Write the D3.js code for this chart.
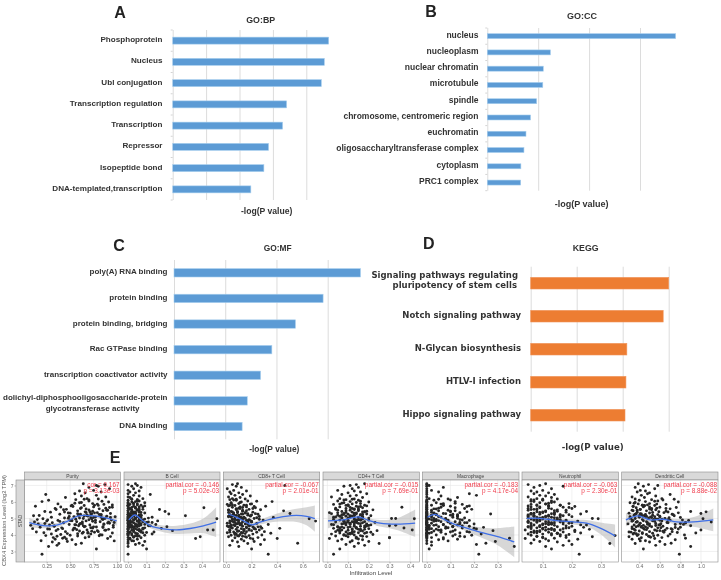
<!DOCTYPE html>
<html><head><meta charset="utf-8">
<script src="https://cdn.jsdelivr.net/npm/d3@7/dist/d3.min.js"></script>
<style>html,body{margin:0;padding:0;background:#fff}svg{display:block}text{font-family:"Liberation Sans",Arial,sans-serif}</style>
</head><body><svg id="c" width="721" height="580"></svg>
<script>
// ---------- bar panels ----------
const bpLabels=["Phosphoprotein","Nucleus","Ubl conjugation","Transcription regulation","Transcription","Repressor","Isopeptide bond","DNA-templated,transcription"];
const bpValues=[9.34,9.08,8.9,6.82,6.58,5.74,5.46,4.68];
const ccLabels=["nucleus","nucleoplasm","nuclear chromatin","microtubule","spindle","chromosome, centromeric region","euchromatin","oligosaccharyltransferase complex","cytoplasm","PRC1 complex"];
const ccValues=[18.5,6.2,5.5,5.45,4.85,4.25,3.8,3.6,3.3,3.28];
const mfLabels=["poly(A) RNA binding","protein binding","protein binding, bridging","Rac GTPase binding","transcription coactivator activity","dolichyl-diphosphooligosaccharide-protein|glycotransferase  activity","DNA binding"];
const mfValues=[7.28,5.82,4.74,3.82,3.38,2.86,2.66];
const keggLabels=["Signaling pathways regulating|pluripotency of stem cells","Notch signaling pathway","N-Glycan biosynthesis","HTLV-I infection","Hippo signaling pathway"];
const keggValues=[6,5.76,4.18,4.14,4.1];

// ---------- immune infiltration panels ----------
const cellTypes=["Purity","B Cell","CD8+ T Cell","CD4+ T Cell","Macrophage","Neutrophil","Dendritic Cell"];
const corLabels=["cor = 0.167","partial.cor = -0.146","partial.cor = -0.067","partial.cor = -0.015","partial.cor = -0.183","partial.cor = -0.063","partial.cor = -0.088"];
const pLabels=["p = 3.13e-03","p = 5.02e-03","p = 2.01e-01","p = 7.69e-01","p = 4.17e-04","p = 2.30e-01","p = 8.88e-02"];
const xTickValues=[[.25,.5,.75,1],[0,.1,.2,.3,.4],[0,.2,.4,.6],[0,.1,.2,.3,.4],[0,.1,.2,.3],[.1,.2,.3],[.4,.6,.8,1]];
const xTickDigits=[2,1,1,1,1,1,1];
const xDomains=[[.0133,1.037],[-.022,.497],[-.021,.732],[-.021,.444],[-.019,.39],[.029,.359],[.229,1.166]];
const expressionTicks=[3,4,5,6,7];
const expression=[2.83,3.15,3.3,3.37,3.42,3.48,3.5,3.57,3.6,3.64,
3.65,3.71,3.74,3.78,3.8,3.83,3.84,3.89,3.9,3.94,
3.96,3.98,4.0,4.03,4.05,4.06,4.1,4.12,4.13,4.16,
4.18,4.2,4.2,4.24,4.26,4.28,4.3,4.3,4.34,4.36,
4.38,4.4,4.42,4.43,4.46,4.47,4.5,4.5,4.53,4.56,
4.58,4.6,4.6,4.63,4.66,4.67,4.7,4.71,4.74,4.76,
4.78,4.8,4.8,4.84,4.85,4.88,4.9,4.9,4.93,4.96,
4.98,5.0,5.0,5.03,5.06,5.07,5.1,5.11,5.14,5.16,
5.18,5.2,5.23,5.25,5.27,5.3,5.33,5.35,5.38,5.4,
5.42,5.46,5.5,5.52,5.55,5.58,5.6,5.65,5.68,5.7,
5.74,5.78,5.8,5.85,5.88,5.9,5.95,6.0,6.02,6.06,
6.1,6.14,6.18,6.2,6.27,6.3,6.36,6.4,6.45,6.5,
6.55,6.6,6.66,6.7,6.8,6.88,6.95,7.0,7.05,7.1,
4.08,4.22,4.35,4.45,4.55,4.62,4.72,4.82,4.92,5.02,
5.08,5.12,5.22,5.28,5.36,5.44,5.54,5.62,5.72,5.82,
3.86,4.02,4.15,4.32,4.48,4.68,4.86,4.94,5.04,5.26,
4.07,4.25,4.38,4.52,4.64,4.74,4.83,4.95,5.06,5.17,
5.24,5.32,5.41,5.5,5.6,5.69,5.8,5.92,6.04,6.16,
3.92,4.11,4.29,4.41,4.57,4.69,4.79,4.89,5.01,5.13,
5.19,5.29,5.39,5.47,5.57,5.66,5.76,5.87,5.97,6.12,
3.75,3.95,4.17,4.34,4.49,4.61,4.77,4.91,5.09,5.21,
4.44,4.54,4.65,4.75,4.87,4.97,5.15,5.34,5.53,5.79];
const purityX=[.2,.78,.27,.36,.56,.38,.62,.31,.47,.97,
.19,.52,.34,.9,.42,.66,.32,.7,.93,.58,
.24,.5,.84,.4,.72,.3,.63,.95,.22,.76,
.14,.45,.8,.6,.35,.88,.53,.68,.91,.26,
.1,.55,.74,.41,.96,.18,.65,.85,.33,.59,
.08,.28,.71,.49,.86,.16,.61,.92,.43,.77,
.12,.57,.82,.25,.67,.37,.94,.51,.15,.73,
.21,.64,.87,.44,.75,.3,.98,.54,.69,.11,
.17,.6,.83,.39,.72,.93,.48,.79,.29,.66,
.23,.58,.89,.7,.46,.81,.34,.62,.95,.75,
.13,.65,.52,.86,.37,.74,.6,.91,.2,.7,
.27,.56,.8,.68,.45,.88,.62,.78,.24,.55,
.66,.83,.6,.75,.92,.7,.8,.78,.87,.64,
.47,.73,.28,.85,.64,.55,.9,.39,.7,.6,
.77,.49,.83,.58,.67,.74,.35,.88,.53,.95,
.44,.82,.69,.57,.78,.63,.52,.85,.72,.61,
.58,.79,.42,.66,.86,.31,.74,.56,.93,.68,
.81,.5,.71,.9,.61,.4,.76,.55,.84,.65,
.36,.69,.87,.54,.96,.23,.63,.77,.48,.89,
.59,.73,.44,.85,.67,.92,.51,.79,.62,.7,
.46,.81,.64,.37,.75,.56,.91,.26,.83,.68,
.72,.33,.6,.97,.5,.84,.65,.76,.43,.8];
const bCellX=[0,.1,0,.08,.04,0,.06,0,.09,.03,
.02,0,.05,.365,.01,.07,0,.39,.03,.06,
0,.09,.02,0,.05,.13,0,.04,.08,.01,
.14,.03,0,.07,.24,.02,.43,.46,.06,0,
.04,.18,0,.09,.01,.03,.21,.05,0,.11,
.02,0,.07,.15,.04,.01,.06,0,.03,.1,
0,.08,.02,.05,.16,0,.03,.07,.01,.09,
.48,.04,0,.06,.02,.13,0,.05,.03,.31,
.01,.07,0,.04,.22,.02,.09,0,.06,.03,
.2,0,.05,.02,.08,.01,0,.41,.04,.06,
.03,0,.07,.01,.05,0,.09,.02,.04,.06,
0,.05,.02,.08,.01,0,.06,.03,.12,0,
.04,.01,.06,0,.03,.07,.02,.05,0,.04,
.05,0,.08,.02,.12,.04,0,.06,.03,.11,
.01,.06,0,.03,.07,.02,.17,.04,0,.05,
.03,0,.1,.05,.02,.07,.01,.06,0,.04,
.02,.06,0,.04,.09,.01,.05,0,.07,.03,
0,.04,.02,.06,.01,.08,0,.03,.05,.02,
.05,0,.03,.08,.01,.06,.11,0,.04,.02,
.07,.01,.04,0,.06,.02,.09,.03,0,.05,
.01,.04,.07,0,.03,.05,.02,.08,0,.06,
.03,.06,.01,.13,0,.04,.07,.02,.05,0];
const cd8X=[.33,.2,.1,.03,.27,.17,.56,.09,.22,.14,
.05,.3,.12,.4,.19,.07,.25,.02,.15,.1,
.18,.04,.28,.11,.21,.08,.35,.13,.01,.24,
.06,.16,.3,.1,.2,.03,.14,.26,.08,.18,
.12,.42,.05,.22,.09,.16,.02,.27,.13,.07,
.19,.04,.11,.33,.15,.08,.24,.01,.17,.1,
.06,.2,.13,.7,.03,.16,.29,.09,.18,.05,
.65,.12,.22,.07,.37,.14,.02,.1,.19,.05,
.08,.17,.03,.25,.12,.5,.06,.15,.21,.09,
.04,.45,.13,.02,.18,.08,.11,.23,.05,.16,
.31,.07,.14,.01,.2,.1,.04,.12,.36,.17,
.08,.03,.15,.05,.11,.02,.19,.07,.13,.04,
.1,.03,.16,.06,.01,.12,.08,.46,.05,.09,
.15,.09,.23,.04,.18,.12,.03,.2,.07,.14,
.11,.26,.06,.17,.02,.13,.08,.1,.22,.05,
.16,.07,.12,.03,.21,.09,.17,.05,.24,.13,
.07,.14,.22,.03,.17,.1,.05,.26,.12,.19,
.06,.15,.09,.02,.21,.11,.16,.04,.24,.08,
.13,.07,.18,.28,.04,.12,.2,.09,.15,.02,
.1,.23,.05,.16,.08,.13,.02,.19,.11,.06,
.21,.09,.03,.14,.25,.06,.17,.1,.04,.2,
.16,.01,.11,.07,.19,.13,.05,.09,.27,.03];
const cd4X=[.03,.06,.13,.18,.09,.25,.15,.11,.2,.05,
.12,.17,.07,.01,.14,.3,.3,.1,.19,.04,
.16,.08,.13,.22,.02,.11,.18,.06,.15,.21,
.09,.13,.04,.17,.24,.1,.07,.41,.15,.12,
.2,.03,.37,.08,.14,.18,.11,.05,.16,.3,
.33,.09,.13,.02,.19,.07,.15,.11,.17,.23,
.04,.12,.18,.08,.14,.1,.06,.2,.16,.13,
.42,.31,.33,.07,.15,.03,.11,.17,.09,.21,
.13,.05,.16,.1,.19,.08,.14,.01,.12,.18,
.07,.15,.11,.22,.04,.13,.09,.17,.36,.06,
.14,.1,.18,.03,.12,.16,.08,.2,.11,.05,
.15,.09,.13,.06,.17,.02,.11,.14,.07,.19,
.1,.16,.13,.05,.12,.15,.08,.11,.14,.18,
.12,.06,.16,.1,.18,.03,.13,.08,.15,.2,
.11,.17,.07,.14,.09,.19,.13,.04,.16,.1,
.14,.08,.19,.12,.05,.16,.1,.13,.07,.17,
.1,.16,.06,.13,.19,.09,.14,.03,.17,.11,
.08,.13,.18,.05,.12,.15,.1,.07,.16,.12,
.17,.11,.05,.14,.2,.08,.13,.16,.1,.06,
.13,.02,.17,.09,.15,.11,.19,.06,.14,.08,
.15,.09,.12,.18,.07,.21,.1,.14,.04,.16,
.06,.19,.11,.14,.08,.17,.12,.05,.15,.09];
const macrophageX=[.22,.01,.37,.02,.21,0,.25,.02,.29,.09,
0,.05,.13,0,.35,.07,.02,.16,0,.11,
0,.19,.04,0,.08,.23,.01,.14,0,.06,
.1,0,.17,.03,.28,0,.12,.06,0,.21,
0,.08,.15,.01,.24,0,.05,.11,.18,0,
.03,.13,0,.07,.2,0,.1,.02,.16,0,
0,.06,.12,0,.04,.18,0,.09,.14,.01,
0,.08,.03,.16,0,.11,.05,0,.13,.02,
0,.1,.04,0,.27,.07,0,.14,.02,.17,
0,.05,.09,0,.19,.03,0,.12,.06,0,
.1,0,.02,.15,0,.07,.04,0,.12,0,
.03,0,.09,.01,.13,0,.06,.21,0,.18,
0,.05,0,.02,0,.07,0,.01,0,0,
0,.11,.04,0,.15,.07,0,.09,.02,0,
.06,0,.13,.03,0,.1,0,.05,.17,0,
0,.12,.02,0,.08,.14,0,.04,0,.11,
0,.06,.02,.11,0,.17,.03,.08,0,.13,
.04,0,.1,.02,.16,0,.07,.12,0,.05,
.14,0,.05,.2,.01,0,.09,.03,.13,0,
.02,.08,0,.12,.04,0,.18,.06,0,.1,
.07,0,.18,.01,.11,.04,0,.15,.02,0,
.09,.01,0,.14,.05,0,.11,.03,0,.07];
const neutrophilX=[.225,.13,.11,.17,.2,.33,.06,.15,.09,.19,
.12,.07,.22,.04,.14,.1,.18,.27,.08,.16,
.348,.06,.13,.19,.1,.05,.15,.23,.08,.12,
.17,.09,.21,.07,.14,.11,.04,.16,.26,.1,
.06,.13,.18,.08,.24,.11,.15,.05,.2,.09,
.14,.25,.07,.12,.17,.1,.06,.19,.13,.08,
.16,.05,.11,.22,.09,.14,.07,.18,.12,.06,
.29,.27,.1,.15,.08,.13,.05,.2,.11,.17,
.07,.12,.16,.09,.23,.06,.14,.1,.18,.08,
.25,.11,.05,.15,.07,.13,.2,.09,.17,.06,
.12,.08,.16,.06,.11,.19,.09,.14,.07,.13,
.1,.06,.15,.08,.13,.05,.11,.09,.14,.07,
.12,.08,.06,.1,.13,.07,.17,.09,.05,.11,
.15,.08,.12,.06,.18,.1,.14,.05,.16,.09,
.11,.07,.19,.13,.09,.15,.06,.12,.21,.08,
.1,.16,.07,.13,.05,.11,.18,.08,.14,.06,
.13,.09,.17,.06,.12,.2,.08,.15,.1,.05,
.14,.07,.11,.18,.05,.09,.16,.12,.06,.1,
.08,.15,.21,.1,.06,.13,.17,.09,.05,.12,
.16,.06,.1,.14,.08,.19,.05,.11,.13,.07,
.11,.18,.06,.14,.09,.23,.12,.07,.16,.05,
.19,.09,.13,.05,.16,.1,.07,.14,.08,.12];
const dendriticX=[.79,.44,.9,.56,.65,.36,.71,.5,.6,.41,
.46,.75,.33,.55,.85,.42,.62,.3,.5,.68,
.38,.58,.84,.47,.7,.34,.53,.95,.43,.64,
.3,.5,.72,.4,.6,.36,1.0,.55,.45,.78,
.33,.67,.48,.58,.42,.8,.37,.52,.63,.9,
.44,.35,.6,.75,.5,.29,.56,.41,.68,.85,
1.1,.47,.38,.62,.53,.88,.33,.7,.43,.58,
1.02,.36,.65,.49,.8,.4,.55,.31,.6,.74,
.45,.35,.58,.72,.42,1.0,.5,.64,.38,1.05,
.9,.47,.33,.56,.41,.7,.52,.37,.6,.44,
.34,.55,.43,.66,.39,.5,.31,.78,.46,.58,
.4,.52,.36,.62,.45,.33,.56,.42,.7,.48,
.5,.38,.46,.41,.55,.36,.44,.58,.49,.39,
.43,.63,.35,.75,.5,.4,.85,.55,.68,.32,
.6,.46,.73,.37,.53,.66,.41,.57,.34,.48,
.51,.39,.77,.47,.33,.61,.44,.54,.69,.36,
.37,.57,.71,.42,.83,.48,.33,.62,.52,.4,
.46,.3,.59,.38,.66,.5,.43,.35,.55,.74,
.49,.35,.65,.44,.56,.8,.38,.6,.31,.47,
.53,.41,.68,.34,.5,.76,.45,.57,.36,.63,
.4,.54,.32,.72,.46,.59,.37,.82,.51,.42,
.61,.39,.48,.67,.34,.56,.43,.78,.52,.45];
const xSeries=[purityX,bCellX,cd8X,cd4X,macrophageX,neutrophilX,dendriticX];
// smooth fits: [x, fit, half-width of the confidence band]
const puritySmooth=[[.065,4.75,.28],[.215,4.57,.17],[.357,4.59,.13],[.463,4.81,.13],[.588,5.15,.12],[.712,5.17,.12],[.854,5.07,.14],[.997,4.85,.3]];
const bCellSmooth=[[.004,4.91,.25],[.038,5.21,.15],[.074,4.91,.14],[.119,4.57,.15],[.191,4.37,.2],[.263,4.31,.25],[.335,4.39,.3],[.407,4.55,.45],[.476,4.77,.9]];
const cd8Smooth=[[.018,5.27,.25],[.083,5.07,.15],[.148,4.81,.15],[.2,4.61,.15],[.265,4.77,.15],[.343,4.95,.2],[.447,5.11,.3],[.551,5.19,.4],[.629,5.13,.55],[.694,4.99,.8]];
const cd4Smooth=[[.003,4.85,.45],[.077,4.91,.2],[.15,5.09,.15],[.206,4.85,.15],[.254,4.71,.2],[.335,4.65,.35],[.424,4.71,.83]];
const macrophageSmooth=[[.003,5.07,.2],[.035,5.25,.15],[.07,4.97,.15],[.113,4.67,.15],[.169,4.41,.2],[.225,4.17,.3],[.296,3.91,.5],[.37,3.58,.93]];
const neutrophilSmooth=[[.045,5.01,.3],[.09,5.01,.15],[.148,4.87,.12],[.205,4.79,.15],[.25,4.71,.2],[.297,4.41,.35],[.348,3.94,.7]];
const dendriticSmooth=[[.27,4.91,.4],[.39,5.15,.15],[.505,4.91,.12],[.635,4.95,.12],[.765,4.79,.18],[.93,4.79,.3],[1.12,4.91,.7]];
const smoothSeries=[puritySmooth,bCellSmooth,cd8Smooth,cd4Smooth,macrophageSmooth,neutrophilSmooth,dendriticSmooth];

const svg=d3.select("#c");
const defs=svg.append("defs");
defs.append("filter").attr("id","soft").attr("x","-5%").attr("y","-5%").attr("width","110%").attr("height","110%").append("feGaussianBlur").attr("stdDeviation",.4);
defs.append("filter").attr("id","soft2").attr("x","-5%").attr("y","-5%").attr("width","110%").attr("height","110%").append("feGaussianBlur").attr("stdDeviation",.55);
const top_=svg.append("g").attr("filter","url(#soft)");
const bottom=svg.append("g").attr("filter","url(#soft2)");

function barPanel(o){
  const g=top_.append("g");
  const x=d3.scaleLinear().domain([0,o.tickMax]).range([o.x0,o.x1]);
  const y=d3.scaleBand().domain(o.labels).range([o.y0,o.y1]);
  const gx=g.append("g").attr("transform",`translate(0,${o.y1})`)
    .call(d3.axisBottom(x).tickValues(d3.range(0,o.tickMax+1e-6,o.step)).tickSize(o.y0-o.y1).tickFormat(""));
  gx.select(".domain").remove();
  gx.selectAll("line").attr("stroke","#dcdcdc").attr("stroke-width",1);
  if(o.bandTicks){
    g.selectAll(".bt").data(d3.range(o.labels.length+1)).join("line")
      .attr("x1",o.x0-2).attr("x2",o.x0)
      .attr("y1",i=>o.y0+i*y.step()).attr("y2",i=>o.y0+i*y.step()).attr("stroke","#d4d4d4");
  }
  g.selectAll(".bar").data(o.labels).join("rect")
    .attr("x",o.x0).attr("y",d=>y(d)+y.bandwidth()/2-o.bar/2)
    .attr("width",(d,i)=>x(o.values[i])-o.x0).attr("height",o.bar)
    .attr("fill",o.color).attr("stroke",o.edge).attr("stroke-width",.6);
  const lab=g.append("g");
  o.labels.forEach(l=>{
    const parts=l.split("|");
    const cy=y(l)+y.bandwidth()/2;
    parts.forEach((p,i)=>{
      const two=parts.length>1;
      const dx=two?o.lineDx[i]:0;
      lab.append("text").attr("x",o.labelX+dx).attr("y",(two?cy+(o.lineY[i]):cy)+o.labelDy)
        .attr("text-anchor","end").attr("font-size",o.font).attr("font-weight","bold")
        .attr("fill","#333").style("font-family",o.family||null).text(p);
    });
  });
  g.append("text").attr("x",o.titleX).attr("y",o.titleY).attr("text-anchor","middle").attr("font-size",o.titleSize)
    .attr("font-weight","bold").attr("fill","#333").text(o.title);
  g.append("text").attr("x",o.axX).attr("y",o.axY).attr("text-anchor","middle").attr("font-size",o.axSize)
    .attr("font-weight","bold").attr("fill","#333").style("font-family",o.family||null).text("-log(P value)");
  g.append("text").attr("x",o.letterX).attr("y",o.letterY).attr("text-anchor","middle").attr("font-size",16)
    .attr("font-weight","bold").attr("fill","#222").text(o.letter);
}
barPanel({labels:bpLabels,values:bpValues,tickMax:8,step:2,x0:172.7,x1:306.3,y0:30,y1:200,bar:7,color:"#5b9bd5",edge:"#a9cfee",bandTicks:true,
  labelX:162.5,labelDy:1.6,font:8.1,title:"GO:BP",titleX:260.7,titleY:23.2,titleSize:8.8,axX:266.7,axY:214,axSize:8.6,letter:"A",letterX:120,letterY:18});
barPanel({labels:ccLabels,values:ccValues,tickMax:15,step:5,x0:487.3,x1:640,y0:28,y1:190.7,bar:5,color:"#5b9bd5",edge:"#a9cfee",bandTicks:true,
  labelX:478.5,labelDy:1.4,font:8.5,title:"GO:CC",titleX:582,titleY:19.2,titleSize:9,axX:581.7,axY:207,axSize:9,letter:"B",letterX:431,letterY:16.5});
barPanel({labels:mfLabels,values:mfValues,tickMax:6,step:2,x0:174,x1:327.7,y0:260,y1:439.3,bar:8.4,color:"#5b9bd5",edge:"#a9cfee",
  labelX:167.5,labelDy:1.6,font:8,lineY:[-2.5,8.2],lineDx:[0,-28],title:"GO:MF",titleX:277.7,titleY:251.4,titleSize:8.4,axX:274.3,axY:452.3,axSize:8.4,letter:"C",letterX:119,letterY:250.5});
barPanel({labels:keggLabels,values:keggValues,tickMax:6,step:2,x0:530.7,x1:668.7,y0:266.7,y1:431.7,bar:11.6,color:"#ed7d31",edge:"#f1945a",
  labelX:521,labelDy:1.6,font:8.5,lineY:[-7.3,2.7],lineDx:[-3,-4],family:"'DejaVu Sans'",title:"KEGG",titleX:585.7,titleY:251,titleSize:8.8,axX:592.7,axY:449.6,axSize:8.6,letter:"D",letterX:428.7,letterY:248.5});

// ---------- bottom row ----------
const panelX=[[24.5,120.5],[124,220],[223.3,319.7],[323,419.3],[422.3,519],[522,618.3],[621.7,718]];
const stripTop=472,panelTop=480,panelBottom=562;
const y=d3.scaleLinear().domain([2.36,7.33]).range([panelBottom,panelTop]);
bottom.append("text").attr("x",115).attr("y",463).attr("text-anchor","middle").attr("font-size",16).attr("font-weight","bold").attr("fill","#222").text("E");
cellTypes.forEach((name,k)=>{
  const [L,R]=panelX[k];
  const g=bottom.append("g");
  const x=d3.scaleLinear().domain(xDomains[k]).range([L,R]);
  g.append("rect").attr("x",L).attr("y",stripTop).attr("width",R-L).attr("height",panelTop-stripTop).attr("fill","#d9d9d9").attr("stroke","#8c8c8c").attr("stroke-width",.6);
  g.append("text").attr("x",(L+R)/2).attr("y",stripTop+5.8).attr("text-anchor","middle").attr("font-size",4.9).attr("fill","#444").text(name);
  g.append("rect").attr("x",L).attr("y",panelTop).attr("width",R-L).attr("height",panelBottom-panelTop).attr("fill","#fff");
  const xt=xTickValues[k];
  g.selectAll(".vg").data(xt).join("line").attr("x1",d=>x(d)).attr("x2",d=>x(d)).attr("y1",panelTop).attr("y2",panelBottom).attr("stroke","#e8e8e8").attr("stroke-width",.6);
  g.selectAll(".hg").data(expressionTicks).join("line").attr("x1",L).attr("x2",R).attr("y1",d=>y(d)).attr("y2",d=>y(d)).attr("stroke","#e8e8e8").attr("stroke-width",.6);
  const fit=smoothSeries[k];
  g.append("path").attr("d",d3.area().x(d=>x(d[0])).y0(d=>y(d[1]-d[2])).y1(d=>y(d[1]+d[2])).curve(d3.curveCatmullRom)(fit)).attr("fill","#a6a6a6").attr("opacity",.45);
  g.selectAll(".pt").data(d3.zip(xSeries[k],expression)).join("circle").attr("cx",d=>x(d[0])).attr("cy",d=>y(d[1])).attr("r",1.45).attr("fill","#262626");
  g.append("path").attr("d",d3.line().x(d=>x(d[0])).y(d=>y(d[1])).curve(d3.curveCatmullRom)(fit)).attr("fill","none").attr("stroke","#3f6fe6").attr("stroke-width",1.3);
  g.append("rect").attr("x",L).attr("y",panelTop).attr("width",R-L).attr("height",panelBottom-panelTop).attr("fill","none").attr("stroke","#8c8c8c").attr("stroke-width",.6);
  g.append("text").attr("x",R-1).attr("y",487).attr("text-anchor","end").attr("font-size",6.4).attr("fill","#f03c4c").text(corLabels[k]);
  g.append("text").attr("x",R-1).attr("y",492.8).attr("text-anchor","end").attr("font-size",6.4).attr("fill","#f03c4c").text(pLabels[k]);
  const ax=g.append("g").attr("transform",`translate(0,${panelBottom})`).call(d3.axisBottom(x).tickValues(xt).tickSize(1.5).tickPadding(1).tickFormat(d3.format("."+xTickDigits[k]+"f")));
  ax.select(".domain").remove();
  ax.selectAll("line").attr("stroke","#777").attr("stroke-width",.5);
  ax.selectAll("text").attr("font-size",5).attr("fill","#666");
});
// shared y strip and axis
bottom.append("rect").attr("x",16).attr("y",panelTop).attr("width",8.5).attr("height",panelBottom-panelTop).attr("fill","#d9d9d9").attr("stroke","#8c8c8c").attr("stroke-width",.6);
bottom.append("text").attr("transform",`translate(21.8,${(panelTop+panelBottom)/2}) rotate(-90)`).attr("text-anchor","middle").attr("font-size",4.9).attr("fill","#444").text("STAD");
const yAx=bottom.append("g").attr("transform","translate(16,0)").call(d3.axisLeft(y).tickValues(expressionTicks).tickSize(1.5).tickPadding(1).tickFormat(d3.format("d")));
yAx.select(".domain").remove();
yAx.selectAll("line").attr("stroke","#777").attr("stroke-width",.5);
yAx.selectAll("text").attr("font-size",5).attr("fill","#666");
bottom.append("text").attr("transform","translate(5.8,520.5) rotate(-90)").attr("text-anchor","middle").attr("font-size",5.8).attr("fill","#555").text("CBX4 Expression Level (log2 TPM)");
bottom.append("text").attr("x",371).attr("y",575).attr("text-anchor","middle").attr("font-size",6.1).attr("fill","#444").text("Infiltration Level");
</script></body></html>
